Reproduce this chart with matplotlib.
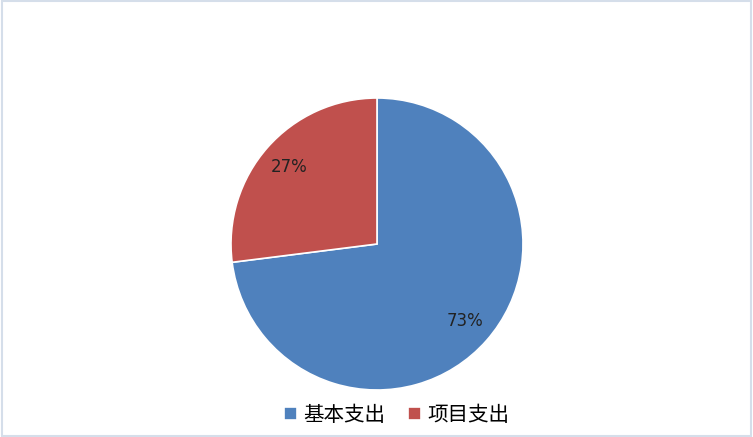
import matplotlib.pyplot as plt
from matplotlib.patches import Rectangle

plt.rcParams['font.family'] = ['Noto Sans CJK SC', 'DejaVu Sans']

labels = ['基本支出', '项目支出']
values = [73, 27]
colors = ['#4F81BD', '#C0504D']

fig = plt.figure(figsize=(7.53, 4.37), dpi=100)
fig.patch.set_facecolor('white')

# pie area: centre ~ (377,244) px, radius ~146 px
ax = fig.add_axes([231 / 753, 47 / 437, 292 / 753, 292 / 437])
wedges, texts, autotexts = ax.pie(
    values, colors=colors, startangle=90, counterclock=False,
    autopct='%d%%', pctdistance=0.8, radius=1,
    wedgeprops=dict(edgecolor='white', linewidth=1.2),
    textprops=dict(fontsize=12, color='#222222', family='DejaVu Sans'))
ax.set_xlim(-1, 1)
ax.set_ylim(-1, 1)
ax.set_aspect('equal')
ax.axis('off')

fig.legend(wedges, labels, loc='center', bbox_to_anchor=(397 / 753, (437 - 415) / 437),
           ncol=2, frameon=False, fontsize=14.8, handlelength=0.6, handleheight=0.6,
           handletextpad=0.35, columnspacing=1.1)

# light frame around the chart
fig.patches.append(Rectangle((0.002, 0.002), 0.996, 0.996, transform=fig.transFigure,
                             fill=False, edgecolor='#D5DEEA', linewidth=1.5))

fig.savefig('out.png', dpi=100)
